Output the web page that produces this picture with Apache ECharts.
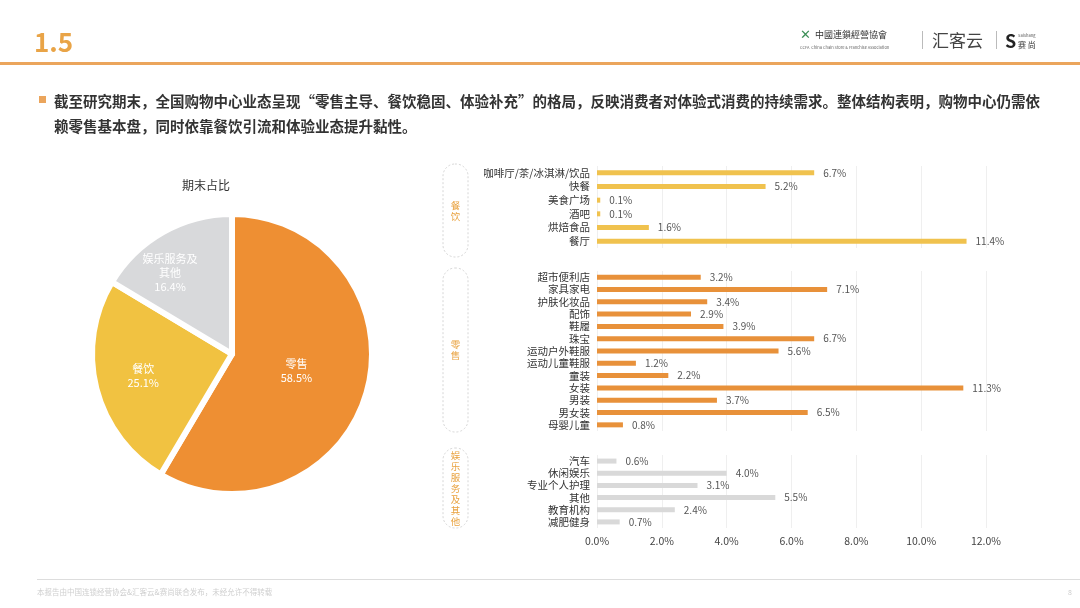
<!DOCTYPE html>
<html>
<head>
<meta charset="utf-8">
<script src="https://cdn.jsdelivr.net/npm/echarts@6/dist/echarts.min.js"></script>
<style>
  html, body { margin: 0; padding: 0; background: #fff; }
  #main { width: 1080px; height: 608px; }
</style>
</head>
<body>
<div id="main"></div>
<script>
var FONT = '"Noto Sans CJK SC", "Noto Sans", sans-serif'

// 期末占比
var pieNames = ['零售', '餐饮', '娱乐服务及其他']
var pieValues = [58.5, 25.1, 16.4]

// 细分业态
var foodCats = ['咖啡厅/茶/冰淇淋/饮品', '快餐', '美食广场', '酒吧', '烘焙食品', '餐厅']
var foodValues = [6.7, 5.2, 0.1, 0.1, 1.6, 11.4]
var retailCats = ['超市便利店', '家具家电', '护肤化妆品', '配饰', '鞋履', '珠宝', '运动户外鞋服',
    '运动儿童鞋服', '童装', '女装', '男装', '男女装', '母婴儿童']
var retailValues = [3.2, 7.1, 3.4, 2.9, 3.9, 6.7, 5.6, 1.2, 2.2, 11.3, 3.7, 6.5, 0.8]
var funCats = ['汽车', '休闲娱乐', '专业个人护理', '其他', '教育机构', '减肥健身']
var funValues = [0.6, 4.0, 3.1, 5.5, 2.4, 0.7]

var xMin = 0, xMax = 12, xStep = 2

var colors = {
    food: '#F0C24E',
    retail: '#E8913A',
    fun: '#D9D9D9'
}
var pieColors = ['#EE8F33', '#F1C241', '#D8D9DB']
// 饼图标签微调
var pieLabelShift = [[-6, -2], [-18, 4], [-26, -18]]

var grids = [
    { left: 597, right: 94, top: 166, height: 82 },
    { left: 597, right: 94, top: 271, height: 160 },
    { left: 597, right: 94, top: 455, height: 73 }
]
var groups = [
    { cats: foodCats, values: foodValues, color: colors.food },
    { cats: retailCats, values: retailValues, color: colors.retail },
    { cats: funCats, values: funValues, color: colors.fun }
]

var xAxes = [], yAxes = [], series = []
groups.forEach(function (g, i) {
    var last = i === groups.length - 1
    xAxes.push({
        type: 'value', gridIndex: i, min: xMin, max: xMax, interval: xStep,
        axisLine: { show: false }, axisTick: { show: false },
        axisLabel: {
            show: last, margin: 8, color: '#444', fontSize: 10.5, fontFamily: FONT,
            formatter: function (v) { return v.toFixed(1) + '%' }
        },
        splitLine: { show: true, lineStyle: { color: '#efefef', width: 1 } }
    })
    yAxes.push({
        type: 'category', gridIndex: i, data: g.cats, inverse: true,
        axisLine: { show: false }, axisTick: { show: false },
        axisLabel: { interval: 0, margin: 7, color: '#333', fontSize: 10.5, fontFamily: FONT }
    })
    series.push({
        type: 'bar', xAxisIndex: i, yAxisIndex: i, data: g.values,
        barWidth: 5, silent: true,
        itemStyle: { color: g.color },
        label: {
            show: true, position: 'right', distance: 9, color: '#555', fontSize: 10, fontFamily: FONT,
            formatter: function (p) { return p.value.toFixed(1) + '%' }
        }
    })
})

series.push({
    type: 'pie', center: [232, 354], radius: 140, startAngle: 90, clockwise: true,
    silent: true,
    itemStyle: { borderColor: '#fff', borderWidth: 6 },
    label: {
        show: true, position: 'inside', color: '#fff', fontSize: 11, lineHeight: 14, fontFamily: FONT,
        formatter: function (p) {
            var n = p.name.length > 5 ? p.name.slice(0, 5) + '\n' + p.name.slice(5) : p.name
            return n + '\n' + p.value.toFixed(1) + '%'
        }
    },
    labelLayout: function (p) {
        var s = pieLabelShift[p.dataIndex]
        return { dx: s[0], dy: s[1] }
    },
    data: pieNames.map(function (n, i) {
        return { name: n, value: pieValues[i], itemStyle: { color: pieColors[i] } }
    })
})

function groupBox(top, bottom, text) {
    return [{
        type: 'rect', shape: { x: 443, y: top, width: 25, height: bottom - top, r: 12 },
        style: { fill: 'none', stroke: '#d6d6d6', lineWidth: 1, lineDash: [2, 2] }
    }, {
        type: 'text', x: 455.5, y: (top + bottom) / 2,
        style: {
            text: text.split('').join('\n'), fill: '#E9A23F', fontSize: 9.5, lineHeight: 11,
            fontFamily: FONT, align: 'center', verticalAlign: 'middle'
        }
    }]
}

var graphics = [
    // 页眉
    { type: 'text', x: 34, y: 42, style: { text: '1.5', fill: '#E9A447', fontSize: 26, fontWeight: 'bold', fontFamily: FONT, verticalAlign: 'middle' } },
    { type: 'rect', shape: { x: 0, y: 62, width: 1080, height: 3 }, style: { fill: '#EBA55C' } },
    { type: 'text', x: 800, y: 34, style: { text: '✕', fill: '#3c8f57', fontSize: 13, fontFamily: FONT, verticalAlign: 'middle' } },
    { type: 'text', x: 815, y: 35, style: { text: '中國連鎖經營協會', fill: '#333', fontSize: 9, fontFamily: FONT, verticalAlign: 'middle' } },
    { type: 'text', x: 800, y: 47, style: { text: 'CCFA  China Chain Store & Franchise Association', fill: '#666', fontSize: 4, fontFamily: FONT, verticalAlign: 'middle' } },
    { type: 'rect', shape: { x: 922, y: 31, width: 1, height: 18 }, style: { fill: '#bbb' } },
    { type: 'text', x: 932, y: 41, style: { text: '汇客云', fill: '#444', fontSize: 17, fontFamily: FONT, verticalAlign: 'middle' } },
    { type: 'rect', shape: { x: 996, y: 31, width: 1, height: 18 }, style: { fill: '#bbb' } },
    { type: 'text', x: 1005, y: 41, style: { text: 'S', fill: '#222', fontSize: 18, fontWeight: 'bold', fontFamily: FONT, verticalAlign: 'middle' } },
    { type: 'text', x: 1018, y: 35, style: { text: 'SaiShang', fill: '#555', fontSize: 4, fontFamily: FONT, verticalAlign: 'middle' } },
    { type: 'text', x: 1018, y: 45, style: { text: '赛 尚', fill: '#333', fontSize: 8, fontFamily: FONT, verticalAlign: 'middle' } },
    // 导语
    { type: 'rect', shape: { x: 39, y: 96, width: 7, height: 7 }, style: { fill: '#EBA55C' } },
    { type: 'text', x: 54, y: 101, style: { text: '截至研究期末，全国购物中心业态呈现“零售主导、餐饮稳固、体验补充”的格局，反映消费者对体验式消费的持续需求。整体结构表明，购物中心仍需依', fill: '#333', fontSize: 14.5, fontWeight: 'bold', fontFamily: FONT, verticalAlign: 'middle' } },
    { type: 'text', x: 54, y: 126, style: { text: '赖零售基本盘，同时依靠餐饮引流和体验业态提升黏性。', fill: '#333', fontSize: 14.5, fontWeight: 'bold', fontFamily: FONT, verticalAlign: 'middle' } },
    // 饼图标题
    { type: 'text', x: 206, y: 185, style: { text: '期末占比', fill: '#333', fontSize: 12, fontFamily: FONT, align: 'center', verticalAlign: 'middle' } },
    // 页脚
    { type: 'rect', shape: { x: 37, y: 579, width: 1043, height: 1 }, style: { fill: '#ddd' } },
    { type: 'text', x: 37, y: 592, style: { text: '本报告由中国连锁经营协会&汇客云&赛尚联合发布，未经允许不得转载', fill: '#cfcfcf', fontSize: 7.5, fontFamily: FONT, verticalAlign: 'middle' } },
    { type: 'text', x: 1068, y: 592, style: { text: '8', fill: '#cfcfcf', fontSize: 7, fontFamily: FONT, verticalAlign: 'middle' } }
]
graphics = graphics.concat(groupBox(164, 257, '餐饮'), groupBox(268, 432, '零售'), groupBox(448, 528, '娱乐服务及其他'))

var chart = echarts.init(document.getElementById('main'))
chart.setOption({
    animation: false,
    backgroundColor: '#fff',
    textStyle: { fontFamily: FONT },
    grid: grids,
    xAxis: xAxes,
    yAxis: yAxes,
    series: series,
    graphic: graphics
})
</script>
</body>
</html>
